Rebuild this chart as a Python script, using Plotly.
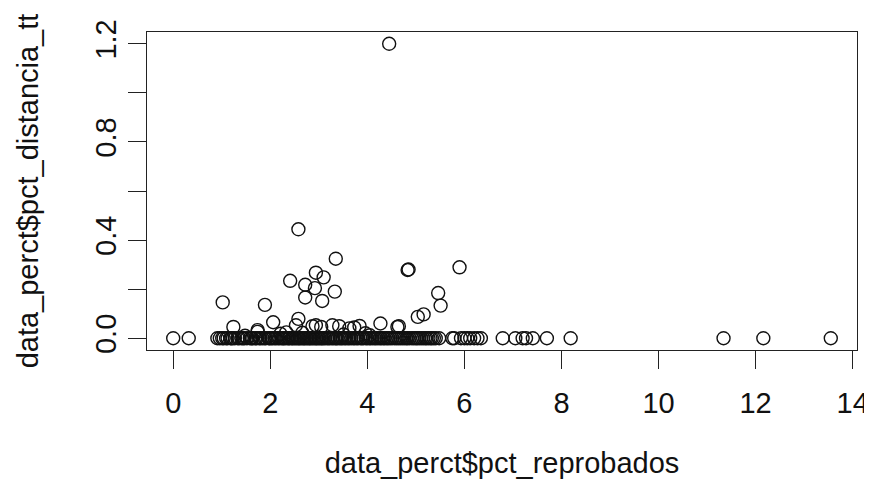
import plotly.graph_objects as go

# points off the zero line
pct_reprobados_pos = [4.45, 2.58, 3.35, 2.94, 3.10, 2.41, 2.72, 2.92, 3.33, 2.72, 3.07,
                      1.02, 1.89, 2.06, 2.58, 1.24, 4.27, 1.74, 3.73, 3.42, 2.87, 3.05,
                      4.83, 4.85, 5.90, 5.46, 5.51, 5.04, 5.16, 4.65, 3.84, 3.63, 4.62,
                      1.74, 2.53, 2.94, 3.28, 2.21, 2.66, 3.51, 4.05, 1.48, 3.96, 2.33]
pct_distancia_pos = [1.20, 0.444, 0.324, 0.267, 0.248, 0.234, 0.218, 0.204, 0.190, 0.166, 0.152,
                     0.146, 0.136, 0.065, 0.079, 0.046, 0.060, 0.026, 0.044, 0.049, 0.049, 0.046,
                     0.278, 0.280, 0.289, 0.184, 0.133, 0.087, 0.097, 0.049, 0.050, 0.040, 0.046,
                     0.033, 0.053, 0.053, 0.053, 0.018, 0.022, 0.015, 0.012, 0.010, 0.020, 0.024]

# points sitting on zero
pct_reprobados_zero = [0.00, 0.32, 0.91, 0.96, 1.01, 1.04, 1.09, 1.12, 1.18, 1.20, 1.23, 1.27,
                       1.33, 1.36, 1.41, 1.44, 1.47, 1.52, 1.58, 1.61, 1.63, 1.69, 1.72, 1.77,
                       1.80, 1.84, 1.88, 1.91, 1.97, 1.99, 2.02, 2.05, 2.09, 2.12, 2.16, 2.19,
                       2.23, 2.26, 2.28, 2.31, 2.35, 2.38, 2.40, 2.44, 2.46, 2.49, 2.52, 2.55,
                       2.58, 2.60, 2.63, 2.66, 2.69, 2.71, 2.74, 2.77, 2.80, 2.82, 2.85, 2.88,
                       2.91, 2.94, 2.96, 2.99, 3.02, 3.05, 3.07, 3.10, 3.13, 3.17, 3.20, 3.23,
                       3.27, 3.30, 3.34, 3.36, 3.39, 3.43, 3.46, 3.49, 3.53, 3.56, 3.60, 3.63,
                       3.67, 3.71, 3.74, 3.78, 3.81, 3.86, 3.89, 3.92, 3.97, 4.00, 4.04, 4.07,
                       4.11, 4.15, 4.18, 4.22, 4.26, 4.29, 4.33, 4.36, 4.40, 4.43, 4.47, 4.51,
                       4.56, 4.60, 4.64, 4.68, 4.72, 4.76, 4.80, 4.83, 4.87, 4.92, 4.96, 5.00,
                       5.03, 5.07, 5.11, 5.15, 5.19, 5.22, 5.26, 5.30, 5.33, 5.37, 5.41, 5.48,
                       5.75, 5.79, 5.93, 6.00, 6.06, 6.12, 6.20, 6.27, 6.34, 6.79, 7.05, 7.20,
                       7.27, 7.41, 7.70, 8.19, 11.34, 12.16, 13.55]
pct_distancia_zero = [0.0] * len(pct_reprobados_zero)

x_ticks = [0, 2, 4, 6, 8, 10, 12, 14]
y_ticks = [0.0, 0.2, 0.4, 0.6, 0.8, 1.0, 1.2]
y_tick_labels = ['0.0', '', '0.4', '', '0.8', '', '1.2']

FONT = 'Liberation Sans, Arial, sans-serif'
TEXT_COLOR = '#111111'
FONT_SIZE = 29

fig = go.Figure()
fig.add_trace(go.Scatter(
    x=pct_reprobados_zero + pct_reprobados_pos,
    y=pct_distancia_zero + pct_distancia_pos,
    mode='markers',
    marker={
        'symbol': 'circle-open',
        'size': 13,
        'color': '#111111',
        'line': {'width': 1.4, 'color': '#111111'},
    },
    showlegend=False,
))

axis_common = {
    'automargin': False,
    'showgrid': False,
    'zeroline': False,
    'showline': True,
    'mirror': True,
    'linecolor': '#222222',
    'linewidth': 1.3,
    'ticks': 'outside',
    'ticklen': 18,
    'tickwidth': 1.2,
    'tickcolor': '#222222',
    'ticklabeloverflow': 'allow',
    'tickfont': {'family': FONT, 'size': FONT_SIZE, 'color': TEXT_COLOR},
}

# the page body adds 8px at the left and top, so the figure is shrunk to fit the window
fig.update_layout(
    width=864,
    height=477,
    margin={'l': 139, 'r': 15, 't': 24, 'b': 135},
    paper_bgcolor='white',
    plot_bgcolor='white',
    xaxis={
        **axis_common,
        'range': [-0.54, 14.09],
        'tickvals': x_ticks,
        'ticklabelstandoff': 9,
        'title': {'text': 'data_perct$pct_reprobados', 'standoff': 34,
                  'font': {'family': FONT, 'size': FONT_SIZE, 'color': TEXT_COLOR}},
    },
    yaxis={
        **axis_common,
        'range': [-0.048, 1.248],
        'tickvals': y_ticks,
        'ticktext': y_tick_labels,
        'tickangle': -90,
        'ticklabelstandoff': 0,
        'title': {'text': 'data_perct$pct_distancia_tt', 'standoff': 43,
                  'font': {'family': FONT, 'size': FONT_SIZE, 'color': TEXT_COLOR}},
    },
)

fig.write_html("out.html")
